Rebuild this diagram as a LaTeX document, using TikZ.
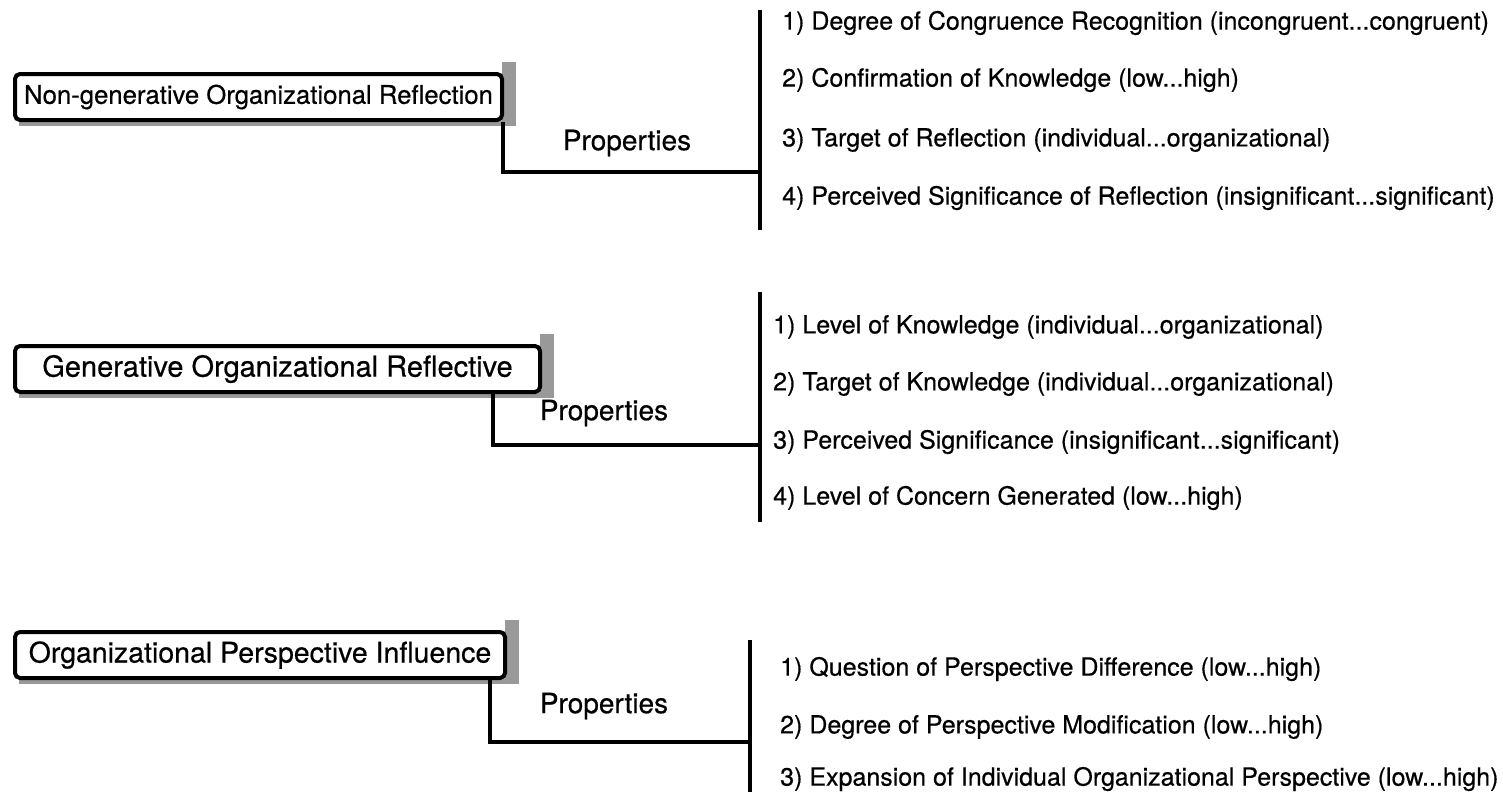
\documentclass[tikz,border=0pt]{standalone}
\usepackage{fontspec}
\setmainfont{TeX Gyre Heros}[FakeBold=0.5]
\usetikzlibrary{backgrounds,calc}
\definecolor{shadowgray}{gray}{0.6}
\begin{document}
\begin{tikzpicture}[x=1pt,y=-1pt,
  concept/.style={draw, line width=4pt, rounded corners=5pt, fill=white,
    inner sep=0pt, minimum height=46pt, anchor=north west},
  dropshade/.style={fill=shadowgray},
  conn/.style={line width=4.2pt},
  bar/.style={line width=4.5pt},
  proplabel/.style={font=\fontsize{28}{28}\selectfont, inner sep=0pt},
  item/.style={anchor=west, inner sep=0pt, font=\fontsize{25}{25}\selectfont}
]
\useasboundingbox (0,0) rectangle (1503,792);

% ---------- first concept ----------
\node[concept, minimum width=487pt, font=\fontsize{25.7}{25.7}\selectfont] (b1) at (13,72) {Non-generative Organizational Reflection};
\coordinate (e1) at (503,172);
\coordinate (t1) at (760,10);
\coordinate (u1) at (760,230);
\coordinate (j1) at (760,172);
\draw[bar] (t1) -- (u1);
\draw[conn] (b1.south -| e1) -- (e1) -- (j1);
\node[proplabel] (p1) at (627,143) {Properties};
\node[item] (i11) at (782,23) {1) Degree of Congruence Recognition (incongruent...congruent)};
\node[item] (i12) at (782,80) {2) Confirmation of Knowledge (low...high)};
\node[item] (i13) at (782,140) {3) Target of Reflection (individual...organizational)};
\node[item] (i14) at (782,198) {4) Perceived Significance of Reflection (insignificant...significant)};

% ---------- second concept ----------
\node[concept, minimum width=525pt, font=\fontsize{29}{29}\selectfont] (b2) at (13,344) {Generative Organizational Reflective};
\coordinate (e2) at (493,445);
\coordinate (t2) at (760,292);
\coordinate (u2) at (760,522);
\coordinate (j2) at (760,445);
\draw[bar] (t2) -- (u2);
\draw[conn] (b2.south -| e2) -- (e2) -- (j2);
\node[proplabel] (p2) at (604,413) {Properties};
\node[item] (i21) at (773,327) {1) Level of Knowledge (individual...organizational)};
\node[item] (i22) at (773,384) {2) Target of Knowledge (individual...organizational)};
\node[item] (i23) at (773,442) {3) Perceived Significance (insignificant...significant)};
\node[item] (i24) at (773,498) {4) Level of Concern Generated (low...high)};

% ---------- third concept ----------
\node[concept, minimum width=490pt, font=\fontsize{28.5}{28.5}\selectfont] (b3) at (13,630) {Organizational Perspective Influence};
\coordinate (e3) at (490,742);
\coordinate (t3) at (750,640);
\coordinate (u3) at (750,792);
\coordinate (j3) at (750,742);
\draw[bar] (t3) -- (u3);
\draw[conn] (b3.south -| e3) -- (e3) -- (j3);
\node[proplabel] (p3) at (604,706) {Properties};
\node[item] (i31) at (780,669) {1) Question of Perspective Difference (low...high)};
\node[item] (i32) at (780,727) {2) Degree of Perspective Modification (low...high)};
\node[item] (i33) at (780,779) {3) Expansion of Individual Organizational Perspective (low...high)};

% ---------- drop shadows behind the concept boxes ----------
\begin{scope}[on background layer]
  \foreach \b in {b1,b2,b3}{
    \fill[dropshade] ($(\b.south east)+(-2,4)$) rectangle ($(\b.north east)+(12,-10)$);
    \fill[dropshade] ($(\b.south west)+(6,-1)$) rectangle ($(\b.south east)+(12,4)$);
  }
\end{scope}
\end{tikzpicture}
\end{document}
